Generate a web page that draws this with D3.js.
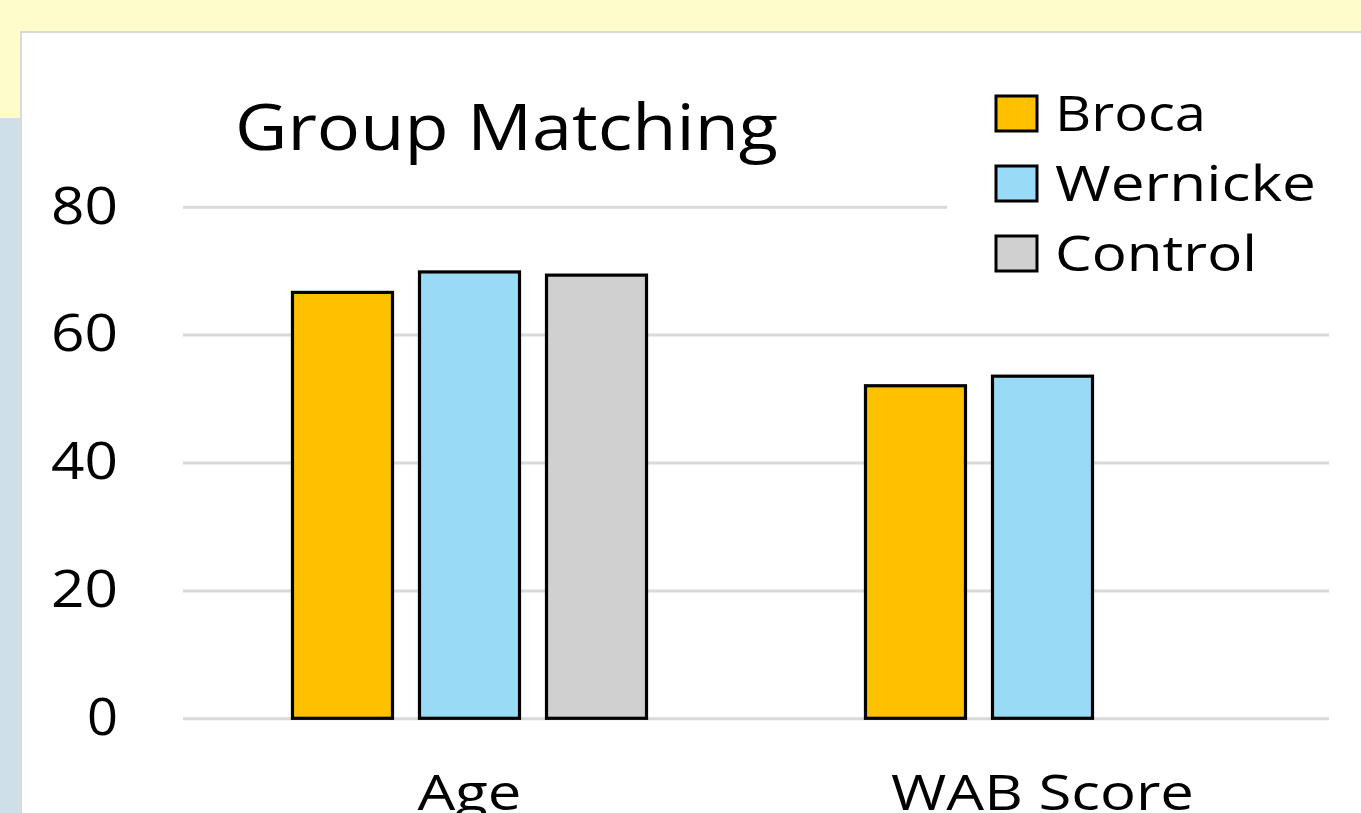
<!DOCTYPE html>
<html>
<head>
<meta charset="utf-8">
<script src="https://cdn.jsdelivr.net/npm/d3@7.9.0/dist/d3.min.js"></script>
<style>
  body { margin: 0; overflow: hidden; background: #fffccc; }
  text { font-family: "Open Sans", sans-serif; fill: #000; }
</style>
</head>
<body>
<div id="chart"></div>
<script>
const categories = ['Age', 'WAB Score'];
const series = ['Broca', 'Wernicke', 'Control'];
const broca = [66.6, 52.0];
const wernicke = [69.8, 53.5];
const control = [69.3, null];
const yTicks = [0, 20, 40, 60, 80];
const colors = ['#ffc000', '#99dbf7', '#d0d0d0'];

// the source picture is stretched sideways, so texts get their measured widths
const titleWidth = 543;
const legendWidths = [151, 261, 202];
const categoryWidths = [104, 303];

const width = 1361;
const height = 813;

const svg = d3.select('#chart')
  .append('svg')
  .attr('width', width)
  .attr('height', height);

// page background pieces
svg.append('rect').attr('x', 0).attr('y', 0).attr('width', width).attr('height', height).attr('fill', '#fffccc');
svg.append('rect').attr('x', 0).attr('y', 118).attr('width', 22).attr('height', height - 118).attr('fill', '#cfdfe9');
svg.append('rect').attr('x', 20).attr('y', 31).attr('width', width).attr('height', height).attr('fill', '#d9d9d9');
svg.append('rect').attr('x', 22).attr('y', 33).attr('width', width).attr('height', height).attr('fill', '#ffffff');

const plot = { left: 183, right: 1329, top: 206.7, bottom: 718.3 };

const yScale = d3.scaleLinear().domain([0, 80]).range([plot.bottom, plot.top]);
const x0 = d3.scaleBand().domain(categories).range([plot.left, plot.right]).padding(0);
const x1 = d3.scaleBand().domain(series).range([0, x0.bandwidth()])
  .paddingInner(0.2126).paddingOuter(0.862);

// gridlines
const grid = svg.append('g')
  .attr('transform', `translate(${plot.left}, 0)`)
  .call(d3.axisLeft(yScale).tickValues(yTicks).tickFormat('').tickSize(-(plot.right - plot.left)));
grid.select('.domain').remove();
grid.selectAll('line').attr('stroke', '#d9d9d9').attr('stroke-width', 3);
// the top gridline stops short of the legend
grid.selectAll('.tick').filter((d) => d === 80).select('line').attr('x2', 947 - plot.left);

// y labels
const yAxis = svg.append('g')
  .attr('transform', `translate(118, 0)`)
  .call(d3.axisLeft(yScale).tickValues(yTicks).tickSize(0).tickPadding(0));
yAxis.select('.domain').remove();
yAxis.selectAll('text')
  .style('font-family', '"Open Sans", sans-serif')
  .attr('font-size', 51)
  .attr('fill', '#000')
  .attr('textLength', (d) => String(d).length * 33.5 - (d === 0 ? 2.5 : 0))
  .attr('lengthAdjust', 'spacingAndGlyphs');

// bars
const rows = categories.map((c, i) => ({
  category: c,
  values: [broca[i], wernicke[i], control[i]].map((v, j) => ({ series: series[j], value: v, color: colors[j] })),
}));

svg.append('g')
  .selectAll('g')
  .data(rows)
  .join('g')
  .attr('transform', (d) => `translate(${x0(d.category)}, 0)`)
  .selectAll('rect')
  .data((d) => d.values.filter((v) => v.value != null))
  .join('rect')
  .attr('x', (d) => x1(d.series))
  .attr('y', (d) => yScale(d.value))
  .attr('width', x1.bandwidth())
  .attr('height', (d) => yScale(0) - yScale(d.value))
  .attr('fill', (d) => d.color)
  .attr('stroke', '#000')
  .attr('stroke-width', 3.2);

// category labels
svg.append('g')
  .selectAll('text')
  .data(categories)
  .join('text')
  .attr('x', (d) => x0(d) + x0.bandwidth() / 2)
  .attr('y', 810)
  .attr('text-anchor', 'middle')
  .attr('font-size', 50)
  .attr('textLength', (d, i) => categoryWidths[i])
  .attr('lengthAdjust', 'spacingAndGlyphs')
  .text((d) => d);

// title
svg.append('text')
  .attr('x', 235)
  .attr('y', 150)
  .attr('font-size', 64)
  .attr('textLength', titleWidth)
  .attr('lengthAdjust', 'spacingAndGlyphs')
  .text('Group Matching');

// legend
const legend = svg.append('g')
  .selectAll('g')
  .data(series)
  .join('g')
  .attr('transform', (d, i) => `translate(996, ${96 + i * 70})`);

legend.append('rect')
  .attr('width', 41)
  .attr('height', 35)
  .attr('fill', (d, i) => colors[i])
  .attr('stroke', '#000')
  .attr('stroke-width', 3);

legend.append('text')
  .attr('x', 59)
  .attr('y', 35)
  .attr('font-size', 50)
  .attr('textLength', (d, i) => legendWidths[i])
  .attr('lengthAdjust', 'spacingAndGlyphs')
  .text((d) => d);
</script>
</body>
</html>
